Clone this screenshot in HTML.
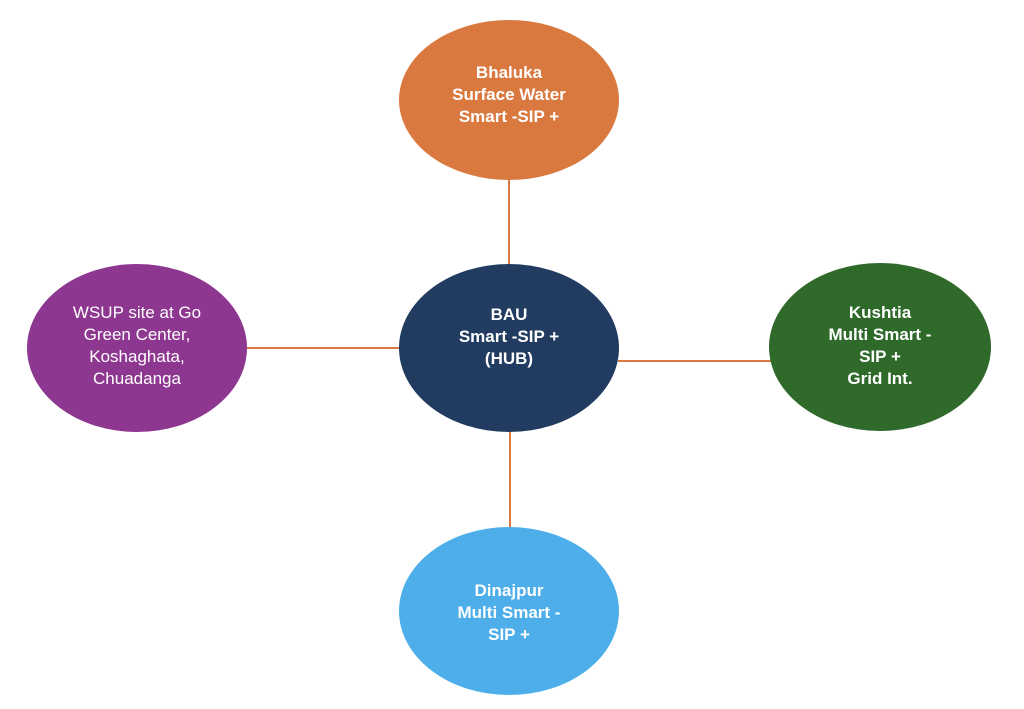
<!DOCTYPE html>
<html><head><meta charset="utf-8"><style>
html,body{margin:0;padding:0;background:#fff;}
body{width:1024px;height:704px;overflow:hidden;}
svg text{font-family:"Liberation Sans",sans-serif;font-size:17px;fill:#fff;text-anchor:middle;}
.b{font-weight:bold;}
</style></head><body>
<svg width="1024" height="704" viewBox="0 0 1024 704">
<g stroke="#D9783F" stroke-width="2">
<line x1="509" y1="178" x2="509" y2="266"/>
<line x1="246" y1="348" x2="401" y2="348"/>
<line x1="618" y1="361" x2="772" y2="361"/>
<line x1="510" y1="430" x2="510" y2="529"/>
</g>
<ellipse cx="509" cy="100" rx="110" ry="80" fill="#D9783F"/>
<ellipse cx="509" cy="348" rx="110" ry="84" fill="#213C60"/>
<ellipse cx="137" cy="348" rx="110" ry="84" fill="#8E3790"/>
<ellipse cx="880" cy="347" rx="111" ry="84" fill="#2F6A2B"/>
<ellipse cx="509" cy="611" rx="110" ry="84" fill="#4EAEEA"/>
<text class="b" x="509" y="78">Bhaluka</text>
<text class="b" x="509" y="100">Surface Water</text>
<text class="b" x="509" y="122">Smart -SIP +</text>
<text class="b" x="509" y="320">BAU</text>
<text class="b" x="509" y="342">Smart -SIP +</text>
<text class="b" x="509" y="364">(HUB)</text>
<text x="137" y="318">WSUP site at Go</text>
<text x="137" y="340">Green Center,</text>
<text x="137" y="362">Koshaghata,</text>
<text x="137" y="384">Chuadanga</text>
<text class="b" x="880" y="318">Kushtia</text>
<text class="b" x="880" y="340">Multi Smart -</text>
<text class="b" x="880" y="362">SIP +</text>
<text class="b" x="880" y="384">Grid Int.</text>
<text class="b" x="509" y="596">Dinajpur</text>
<text class="b" x="509" y="618">Multi Smart -</text>
<text class="b" x="509" y="640">SIP +</text>
</svg>
</body></html>
